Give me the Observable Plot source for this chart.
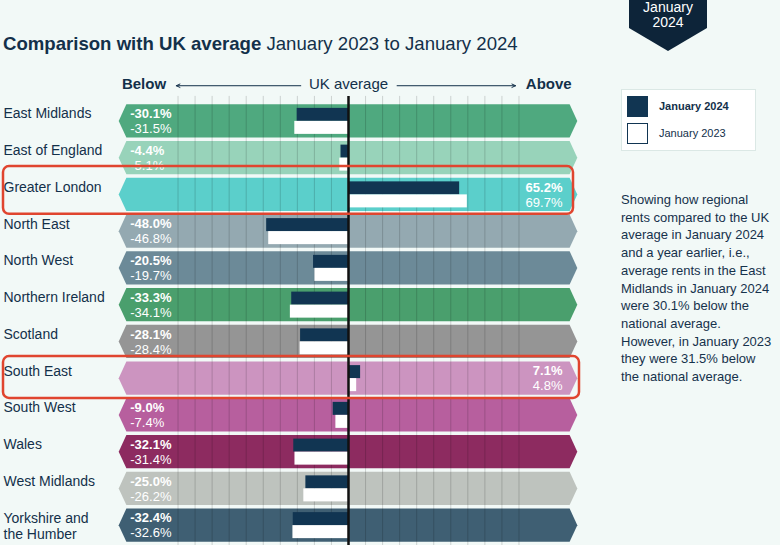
<!DOCTYPE html>
<html><head><meta charset="utf-8">
<script src="https://cdn.jsdelivr.net/npm/d3@7"></script>
<script src="https://cdn.jsdelivr.net/npm/@observablehq/plot@0.6"></script>
<style>
html,body{margin:0;padding:0;background:#f2f9f7;}
body{width:780px;height:545px;position:relative;overflow:hidden;font-family:"Liberation Sans",Arial,Helvetica,sans-serif;color:#13304a;}
#chart{position:absolute;left:0;top:0;}
.title{position:absolute;left:3px;top:33px;font-size:18.6px;line-height:22px;white-space:nowrap;color:#13304a;}
.badge{position:absolute;left:629px;top:0;width:78px;height:51px;background:#0d2439;clip-path:polygon(0 0,100% 0,100% 55%,50% 100%,0 55%);color:#fff;text-align:center;font-size:14px;line-height:14.5px;}
.badge div{padding-top:0px;}
.legend{position:absolute;left:621px;top:89px;width:133px;height:60px;background:#fff;border:1px solid #dbe8e5;}
.sw{position:absolute;left:5px;width:19px;height:19px;box-sizing:border-box;}
.lt{position:absolute;left:37px;font-size:11px;line-height:13px;color:#13304a;}
.desc{position:absolute;left:621px;top:191px;width:158px;font-size:13px;line-height:17.7px;color:#16324c;}
</style>
</head><body>
<div id="chart"></div>
<div class="title"><b>Comparison with UK average</b> January 2023 to January 2024</div>
<div class="badge"><div>January<br>2024</div></div>
<div class="legend">
  <div class="sw" style="top:6px;background:#113552;height:21px;width:21px;"></div>
  <div class="lt" style="top:10px;font-weight:bold;">January 2024</div>
  <div class="sw" style="top:33px;background:#fff;border:1.5px solid #113552;height:21px;width:21px;"></div>
  <div class="lt" style="top:37px;">January 2023</div>
</div>
<div class="desc">Showing how regional<br>rents compared to the UK<br>average in January 2024<br>and a year earlier, i.e.,<br>average rents in the East<br>Midlands in January 2024<br>were 30.1% below the<br>national average.<br>However, in January 2023<br>they were 31.5% below<br>the national average.</div>
<script>
const regions = ["East Midlands","East of England","Greater London","North East","North West","Northern Ireland","Scotland","South East","South West","Wales","West Midlands","Yorkshire and\nthe Humber"];
const jan2024 = [-30.1,-4.4,65.2,-48.0,-20.5,-33.3,-28.1,7.1,-9.0,-32.1,-25.0,-32.4];
const jan2023 = [-31.5,-5.1,69.7,-46.8,-19.7,-34.1,-28.4,4.8,-7.4,-31.4,-26.2,-32.6];
const bandColors = ["#4fa97f","#98d3ba","#5bcfcb","#94a9b1","#6c8a98","#4a9f6d","#959595","#cc94c0","#b75f9e","#8d2b60","#bec3be","#3f5f73"];
const gridTicks = [-100,-90,-80,-70,-60,-50,-40,-30,-20,-10,10,20,30,40,50,60,70,80,90,100];
const highlighted = ["Greater London","South East"];

const rows = regions.map((r,i)=>({region:r,i,v24:jan2024[i],v23:jan2023[i],color:bandColors[i]}));
const shape = rows.flatMap(d=>[
  {region:d.region,color:d.color,x:-134.5,y1:d.i+0.5,y2:d.i+0.5},
  {region:d.region,color:d.color,x:-130,y1:d.i+0.045,y2:d.i+0.955},
  {region:d.region,color:d.color,x:130,y1:d.i+0.045,y2:d.i+0.955},
  {region:d.region,color:d.color,x:134.5,y1:d.i+0.5,y2:d.i+0.5}
]);
const pct = v => v.toFixed(1)+"%";
const navy = "#113552", ink = "#13304a";
const hl = rows.filter(d=>highlighted.includes(d.region));

const chart = Plot.plot({
  width:780, height:545,
  marginTop:0, marginRight:0, marginBottom:0, marginLeft:0,
  x:{domain:[-134.5,134.5], range:[118.7,577.3], axis:null},
  y:{domain:[0,12], range:[102.5,543.5], axis:null},
  color:{type:"identity"},
  style:{background:"transparent", fontFamily:"'Liberation Sans', Arial, sans-serif", overflow:"visible"},
  marks:[
    Plot.areaY(shape,{x:"x",y1:"y1",y2:"y2",z:"region",fill:"color"}),
    Plot.ruleX(gridTicks,{y1:-0.18,y2:12.2,stroke:"#000",strokeOpacity:0.16,strokeWidth:1}),
    Plot.rect(rows,{x1:0,x2:"v24",y1:d=>d.i+0.146,y2:d=>d.i+0.5,fill:navy}),
    Plot.rect(rows,{x1:0,x2:"v23",y1:d=>d.i+0.5,y2:d=>d.i+0.854,fill:"#fff"}),
    Plot.ruleX([0],{y1:-0.18,y2:12.2,stroke:"#111",strokeWidth:2.5}),
    Plot.text(rows.filter(d=>d.v24<0),{x:-128,y:d=>d.i+0.5,dy:-7.5,text:d=>pct(d.v24),textAnchor:"start",fill:"#fff",fontWeight:"bold",fontSize:13}),
    Plot.text(rows.filter(d=>d.v24<0),{x:-128,y:d=>d.i+0.5,dy:7.5,text:d=>pct(d.v23),textAnchor:"start",fill:"#fff",fontSize:13}),
    Plot.text(rows.filter(d=>d.v24>=0),{x:125.5,y:d=>d.i+0.5,dy:-7.5,text:d=>pct(d.v24),textAnchor:"end",fill:"#fff",fontWeight:"bold",fontSize:13}),
    Plot.text(rows.filter(d=>d.v24>=0),{x:125.5,y:d=>d.i+0.5,dy:7.5,text:d=>pct(d.v23),textAnchor:"end",fill:"#fff",fontSize:13}),
    Plot.text(rows,{y:d=>d.i+0.5,text:"region",frameAnchor:"left",dx:3,textAnchor:"start",lineAnchor:"top",dy:-15,lineHeight:1.2,fontSize:14,fill:ink}),
    Plot.text(["Below"],{x:-107,y:-0.5,text:d=>d,textAnchor:"end",fontWeight:"bold",fontSize:15,fill:ink}),
    Plot.text(["UK average"],{x:0,y:-0.5,text:d=>d,textAnchor:"middle",fontSize:15,fill:ink}),
    Plot.text(["Above"],{x:104,y:-0.5,text:d=>d,textAnchor:"start",fontWeight:"bold",fontSize:15,fill:ink}),
    Plot.arrow([0],{x1:-28,x2:-101,y1:-0.47,y2:-0.47,stroke:ink,strokeWidth:1,headLength:6,headAngle:50}),
    Plot.arrow([0],{x1:28.5,x2:98,y1:-0.47,y2:-0.47,stroke:ink,strokeWidth:1,headLength:6,headAngle:50}),
    Plot.rect(hl.filter(d=>d.region==="Greater London"),{y1:d=>d.i-0.27,y2:d=>d.i+1.03,insetLeft:3,insetRight:207,fill:"none",stroke:"#e0452f",strokeWidth:2.5,rx:6}),
    Plot.rect(hl.filter(d=>d.region==="South East"),{y1:d=>d.i-0.1,y2:d=>d.i+1.04,insetLeft:3,insetRight:201,fill:"none",stroke:"#e0452f",strokeWidth:2.5,rx:6})
  ]
});
document.getElementById("chart").appendChild(chart);
</script>
</body></html>
